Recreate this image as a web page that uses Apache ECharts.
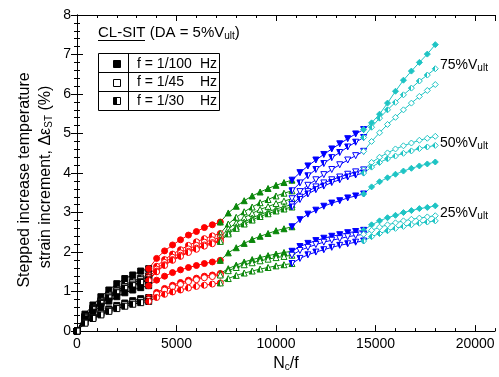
<!DOCTYPE html>
<html>
<head>
<meta charset="utf-8">
<script src="https://cdn.jsdelivr.net/npm/echarts@6/dist/echarts.min.js"></script>
<style>
  html, body { margin: 0; padding: 0; background: #fff; }
  #chart { width: 499px; height: 377px; }
</style>
</head>
<body>
<div id="chart"></div>
<script>
// x offsets inside each temperature stage, and where each stage starts (N_c/f)
var stageX = [0, 400, 800, 1200, 1600, 2000, 2400, 2800, 3200, 3600];
var stageStart = [0, 3600, 7200, 10800, 14400];

// strain increment (%) per stage, one list per test
var v75Filled = [
  [0, 0.43, 0.66, 0.87, 1.04, 1.2, 1.33, 1.42, 1.52, 1.58],
  [1.58, 1.84, 2.03, 2.18, 2.31, 2.43, 2.52, 2.62, 2.69, 2.76],
  [2.76, 2.99, 3.16, 3.3, 3.42, 3.52, 3.61, 3.69, 3.76, 3.82],
  [3.82, 4.01, 4.18, 4.33, 4.47, 4.61, 4.74, 4.87, 4.99, 5.1],
  [5.1, 5.27, 5.49, 5.77, 6.07, 6.35, 6.58, 6.8, 7.01, 7.25]
];
var v75Half = [
  [0, 0.38, 0.59, 0.77, 0.92, 1.06, 1.18, 1.26, 1.34, 1.4],
  [1.4, 1.64, 1.81, 1.95, 2.06, 2.17, 2.26, 2.34, 2.41, 2.47],
  [2.47, 2.71, 2.88, 3.02, 3.14, 3.25, 3.33, 3.42, 3.49, 3.55],
  [3.55, 3.75, 3.93, 4.09, 4.24, 4.39, 4.52, 4.66, 4.78, 4.9],
  [4.9, 5.16, 5.39, 5.6, 5.79, 5.98, 6.15, 6.33, 6.48, 6.64]
];
var v75Open = [
  [0, 0.36, 0.57, 0.74, 0.89, 1.03, 1.13, 1.22, 1.3, 1.35],
  [1.35, 1.57, 1.74, 1.87, 1.98, 2.08, 2.17, 2.25, 2.31, 2.37],
  [2.37, 2.59, 2.74, 2.87, 2.98, 3.08, 3.15, 3.23, 3.29, 3.35],
  [3.35, 3.53, 3.69, 3.83, 3.96, 4.09, 4.21, 4.33, 4.44, 4.55],
  [4.55, 4.8, 5.02, 5.23, 5.41, 5.6, 5.77, 5.94, 6.09, 6.24]
];
var v50Open = [
  [0, 0.35, 0.55, 0.72, 0.86, 0.99, 1.09, 1.17, 1.25, 1.3],
  [1.3, 1.52, 1.68, 1.81, 1.92, 2.02, 2.1, 2.18, 2.24, 2.3],
  [2.3, 2.5, 2.64, 2.76, 2.86, 2.95, 3.02, 3.09, 3.15, 3.2],
  [3.2, 3.39, 3.53, 3.65, 3.75, 3.83, 3.9, 3.97, 4.03, 4.08],
  [4.08, 4.27, 4.4, 4.51, 4.61, 4.69, 4.76, 4.83, 4.88, 4.93]
];
var v50Half = [
  [0, 0.35, 0.54, 0.7, 0.84, 0.97, 1.08, 1.15, 1.23, 1.28],
  [1.28, 1.5, 1.66, 1.79, 1.89, 1.99, 2.07, 2.15, 2.21, 2.27],
  [2.27, 2.46, 2.6, 2.71, 2.81, 2.9, 2.97, 3.04, 3.09, 3.14],
  [3.14, 3.33, 3.47, 3.58, 3.67, 3.76, 3.83, 3.9, 3.95, 4.0],
  [4.0, 4.15, 4.27, 4.36, 4.43, 4.5, 4.56, 4.62, 4.66, 4.7]
];
var v50Filled = [
  [0, 0.31, 0.48, 0.63, 0.76, 0.87, 0.97, 1.04, 1.1, 1.15],
  [1.15, 1.29, 1.39, 1.48, 1.55, 1.61, 1.66, 1.71, 1.75, 1.79],
  [1.79, 1.98, 2.11, 2.22, 2.32, 2.4, 2.47, 2.54, 2.59, 2.64],
  [2.64, 2.82, 2.96, 3.06, 3.16, 3.24, 3.3, 3.37, 3.42, 3.47],
  [3.47, 3.65, 3.78, 3.88, 3.97, 4.05, 4.12, 4.18, 4.23, 4.28]
];
var v25Filled = [
  [0, 0.23, 0.36, 0.47, 0.56, 0.65, 0.71, 0.77, 0.82, 0.85],
  [0.85, 0.98, 1.08, 1.16, 1.23, 1.29, 1.34, 1.39, 1.42, 1.46],
  [1.46, 1.58, 1.67, 1.75, 1.81, 1.86, 1.91, 1.95, 1.99, 2.02],
  [2.02, 2.14, 2.22, 2.29, 2.35, 2.4, 2.44, 2.49, 2.52, 2.55],
  [2.55, 2.69, 2.79, 2.87, 2.93, 3.0, 3.05, 3.1, 3.13, 3.17]
];
var v25Open = [
  [0, 0.22, 0.34, 0.44, 0.53, 0.61, 0.67, 0.72, 0.77, 0.8],
  [0.8, 0.94, 1.04, 1.12, 1.18, 1.25, 1.3, 1.35, 1.38, 1.42],
  [1.42, 1.53, 1.61, 1.68, 1.73, 1.78, 1.82, 1.86, 1.89, 1.92],
  [1.92, 2.04, 2.12, 2.19, 2.25, 2.3, 2.34, 2.39, 2.42, 2.45],
  [2.45, 2.55, 2.63, 2.69, 2.74, 2.79, 2.83, 2.86, 2.89, 2.92]
];
var v25Half = [
  [0, 0.2, 0.32, 0.41, 0.5, 0.57, 0.63, 0.68, 0.72, 0.75],
  [0.75, 0.85, 0.93, 0.99, 1.04, 1.09, 1.13, 1.16, 1.19, 1.22],
  [1.22, 1.33, 1.41, 1.47, 1.52, 1.57, 1.61, 1.65, 1.68, 1.71],
  [1.71, 1.84, 1.93, 2.0, 2.06, 2.12, 2.17, 2.21, 2.25, 2.28],
  [2.28, 2.39, 2.47, 2.54, 2.6, 2.65, 2.69, 2.73, 2.76, 2.79]
];

var stageColor = ['#000000', '#ff0000', '#0a870a', '#0000ff', '#1ec4c4'];
var stageSymbol = ['rect', 'circle', 'triangle', 'path://M0,0L10,0L5,9Z', 'diamond'];

var curves = [
  { data: v75Filled, fill: 'solid' },
  { data: v75Half, fill: 'half' },
  { data: v75Open, fill: 'open' },
  { data: v50Open, fill: 'open' },
  { data: v50Half, fill: 'half' },
  { data: v50Filled, fill: 'solid' },
  { data: v25Filled, fill: 'solid' },
  { data: v25Open, fill: 'open' },
  { data: v25Half, fill: 'half' }
];

var FONT = 'Liberation Sans, Arial, sans-serif';

function halfFill(c) {
  return new echarts.graphic.LinearGradient(0, 0, 1, 0, [
    { offset: 0, color: c }, { offset: 0.5, color: c },
    { offset: 0.5, color: '#fff' }, { offset: 1, color: '#fff' }
  ]);
}

function markFill(kind, c) {
  if (kind === 'solid') return c;
  if (kind === 'open') return '#fff';
  return halfFill(c);
}

var series = [];
curves.forEach(function (cv) {
  cv.data.forEach(function (ys, s) {
    series.push({
      type: 'line',
      xAxisIndex: 0,
      yAxisIndex: 0,
      data: ys.map(function (y, i) { return [stageStart[s] + stageX[i], y]; }),
      symbol: stageSymbol[s],
      symbolSize: 6,
      showAllSymbol: true,
      lineStyle: { color: stageColor[s], width: 1 },
      itemStyle: { color: markFill(cv.fill, stageColor[s]), borderColor: stageColor[s], borderWidth: 1 },
      silent: true
    });
  });
});

var axisBase = {
  type: 'value',
  splitLine: { show: false },
  axisLine: { show: true, lineStyle: { color: '#000', width: 1 } }
};

var subRich = {
  sub: { fontSize: 10, fontFamily: FONT, color: '#000', verticalAlign: 'bottom', padding: [6, 0, 0, 0] }
};

var myChart = echarts.init(document.getElementById('chart'));
var option = {
  animation: false,
  grid: { left: 77, right: 4, top: 15, bottom: 44, containLabel: false },
  xAxis: [
    Object.assign({}, axisBase, {
      position: 'bottom', min: 0, max: 21000, interval: 5000,
      axisTick: { inside: true, length: 6, lineStyle: { color: '#000' } },
      axisLabel: {
        color: '#000', fontSize: 14, fontFamily: FONT, margin: 6, showMaxLabel: false,
        formatter: function (v) { return String(v); }
      },
      name: 'N{sub|c}/f', nameLocation: 'middle', nameGap: 24,
      nameTextStyle: { color: '#000', fontSize: 16, fontFamily: FONT, rich: subRich }
    }),
    Object.assign({}, axisBase, {
      position: 'bottom', min: 0, max: 21000, interval: 1000,
      axisLine: { show: false },
      axisTick: { inside: true, length: 3, lineStyle: { color: '#000' } },
      axisLabel: { show: false }
    }),
    Object.assign({}, axisBase, {
      position: 'top', min: 0, max: 21000, interval: 5000,
      axisTick: { inside: true, length: 6, lineStyle: { color: '#000' } },
      axisLabel: { show: false }
    }),
    Object.assign({}, axisBase, {
      position: 'top', min: 0, max: 21000, interval: 1000,
      axisLine: { show: false },
      axisTick: { inside: true, length: 3, lineStyle: { color: '#000' } },
      axisLabel: { show: false }
    })
  ],
  yAxis: [
    Object.assign({}, axisBase, {
      position: 'left', min: 0, max: 8, interval: 1,
      axisTick: { inside: true, length: 6, lineStyle: { color: '#000' } },
      minorTick: { show: true, splitNumber: 5, length: 3, lineStyle: { color: '#000' } },
      axisLabel: { color: '#000', fontSize: 14, fontFamily: FONT, margin: 6 }
    }),
    Object.assign({}, axisBase, {
      position: 'right', min: 0, max: 8, interval: 1,
      axisTick: { inside: true, length: 6, lineStyle: { color: '#000' } },
      minorTick: { show: true, splitNumber: 5, length: 3, lineStyle: { color: '#000' } },
      axisLabel: { show: false }
    })
  ],
  graphic: [
    // y axis title, two lines
    {
      type: 'text', x: 25, y: 180, rotation: Math.PI / 2,
      style: { text: 'Stepped increase temperature', font: '16px ' + FONT, fill: '#000', textAlign: 'center', textVerticalAlign: 'middle' }
    },
    {
      type: 'text', x: 46, y: 177, rotation: Math.PI / 2,
      style: {
        text: 'strain increment, \u0394\u03b5{sub|ST} (%)', font: '16px ' + FONT, fill: '#000',
        textAlign: 'center', textVerticalAlign: 'middle', rich: subRich
      }
    },
    // title of the legend
    {
      type: 'text', x: 98, y: 33,
      style: { text: 'CL-SIT (DA = 5%V{sub|ult})', font: '15px ' + FONT, fill: '#000', textVerticalAlign: 'middle', rich: subRich }
    },
    { type: 'line', shape: { x1: 98, y1: 40.5, x2: 145, y2: 40.5 }, style: { stroke: '#000', lineWidth: 1 } },
    // legend table
    { type: 'rect', shape: { x: 98.5, y: 53.5, width: 121, height: 57 }, style: { fill: 'none', stroke: '#000', lineWidth: 1 } },
    { type: 'line', shape: { x1: 98, y1: 72.5, x2: 220, y2: 72.5 }, style: { stroke: '#000', lineWidth: 1 } },
    { type: 'line', shape: { x1: 98, y1: 91.5, x2: 220, y2: 91.5 }, style: { stroke: '#000', lineWidth: 1 } },
    { type: 'line', shape: { x1: 128.5, y1: 53, x2: 128.5, y2: 111 }, style: { stroke: '#000', lineWidth: 1 } },
    { type: 'rect', shape: { x: 113.5, y: 60.5, width: 7, height: 7 }, style: { fill: '#000', stroke: '#000', lineWidth: 1 } },
    { type: 'rect', shape: { x: 113.5, y: 79.5, width: 7, height: 7 }, style: { fill: '#fff', stroke: '#000', lineWidth: 1 } },
    { type: 'rect', shape: { x: 113.5, y: 97.5, width: 7, height: 7 }, style: { fill: halfFill('#000'), stroke: '#000', lineWidth: 1 } },
    { type: 'text', x: 137, y: 64, style: { text: 'f = 1/100', font: '14px ' + FONT, fill: '#000', textVerticalAlign: 'middle' } },
    { type: 'text', x: 137, y: 82, style: { text: 'f = 1/45', font: '14px ' + FONT, fill: '#000', textVerticalAlign: 'middle' } },
    { type: 'text', x: 137, y: 101, style: { text: 'f = 1/30', font: '14px ' + FONT, fill: '#000', textVerticalAlign: 'middle' } },
    { type: 'text', x: 217, y: 64, style: { text: 'Hz', font: '14px ' + FONT, fill: '#000', textAlign: 'right', textVerticalAlign: 'middle' } },
    { type: 'text', x: 217, y: 82, style: { text: 'Hz', font: '14px ' + FONT, fill: '#000', textAlign: 'right', textVerticalAlign: 'middle' } },
    { type: 'text', x: 217, y: 101, style: { text: 'Hz', font: '14px ' + FONT, fill: '#000', textAlign: 'right', textVerticalAlign: 'middle' } },
    // load level labels
    { type: 'text', x: 440, y: 65, style: { text: '75%V{sub|ult}', font: '14px ' + FONT, fill: '#000', textVerticalAlign: 'middle', rich: subRich } },
    { type: 'text', x: 440, y: 143, style: { text: '50%V{sub|ult}', font: '14px ' + FONT, fill: '#000', textVerticalAlign: 'middle', rich: subRich } },
    { type: 'text', x: 440, y: 213, style: { text: '25%V{sub|ult}', font: '14px ' + FONT, fill: '#000', textVerticalAlign: 'middle', rich: subRich } }
  ],
  series: series
};
myChart.setOption(option);
</script>
</body>
</html>
